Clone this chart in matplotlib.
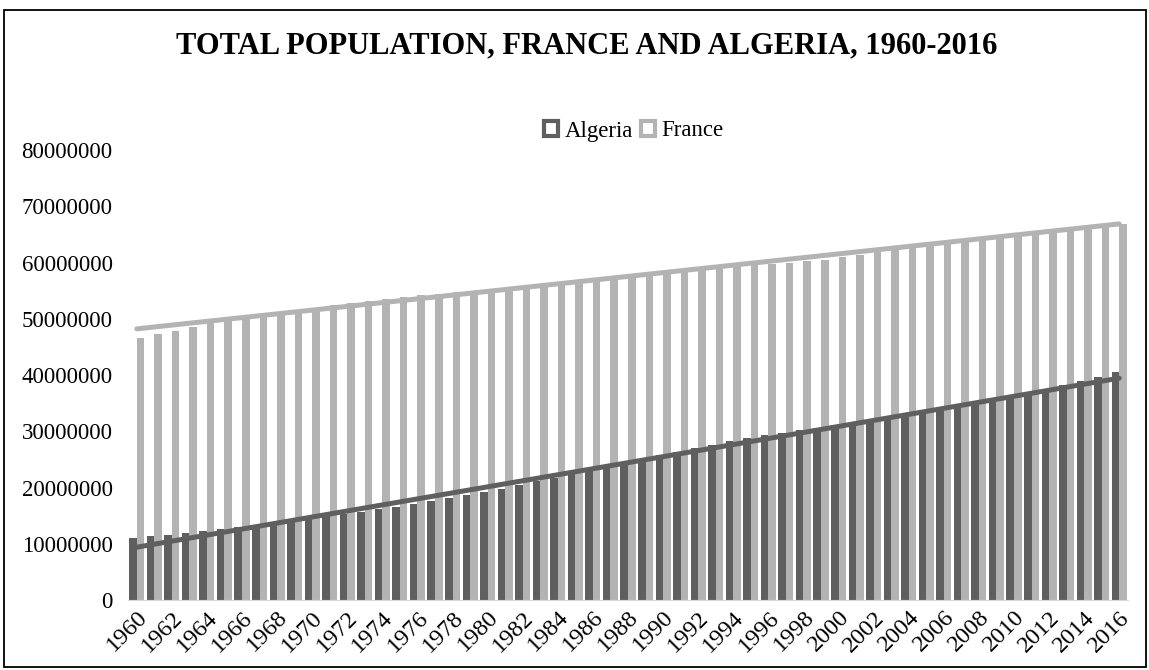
import numpy as np
import matplotlib
matplotlib.use("Agg")
import matplotlib.pyplot as plt
from matplotlib.patches import Rectangle, Patch

years = list(range(1960, 2017))
algeria = [11.06, 11.34, 11.62, 11.91, 12.22, 12.55, 12.90, 13.28, 13.66, 14.06,
           14.46, 14.87, 15.29, 15.71, 16.15, 16.61, 17.09, 17.58, 18.10, 18.65,
           19.22, 19.82, 20.45, 21.10, 21.76, 22.43, 23.10, 23.77, 24.44, 25.11,
           25.76, 26.40, 27.03, 27.64, 28.21, 28.76, 29.27, 29.74, 30.19, 30.62,
           31.04, 31.45, 31.86, 32.26, 32.69, 33.15, 33.64, 34.17, 34.73, 35.33,
           35.98, 36.66, 37.38, 38.14, 38.92, 39.73, 40.55]
france = [46.62, 47.24, 47.90, 48.58, 49.23, 49.82, 50.33, 50.78, 51.18, 51.56,
          51.96, 52.37, 52.79, 53.21, 53.59, 53.93, 54.22, 54.47, 54.69, 54.92,
          55.16, 55.43, 55.72, 56.02, 56.34, 56.65, 56.98, 57.30, 57.63, 57.94,
          58.24, 58.56, 58.85, 59.11, 59.33, 59.54, 59.75, 59.96, 60.19, 60.50,
          60.91, 61.36, 61.81, 62.24, 62.70, 63.18, 63.62, 64.02, 64.37, 64.71,
          65.03, 65.34, 65.66, 66.00, 66.32, 66.59, 66.86]
algeria = [v * 1e6 for v in algeria]
france = [v * 1e6 for v in france]
series_names = ["Algeria", "France"]
title = "TOTAL POPULATION, FRANCE AND ALGERIA, 1960-2016"

c_alg = "#5f5f5f"
c_fra = "#b3b3b3"
serif = ["Liberation Serif", "DejaVu Serif"]
plt.rcParams["font.family"] = serif

fig = plt.figure(figsize=(11.49, 6.70), dpi=100)
ax = fig.add_axes([128/1149, 70/670, 1000/1149, 450/670])

x = np.arange(len(years))
w = 0.43
ax.bar(x - w/2, algeria, width=w, color=c_alg, zorder=2)
ax.bar(x + w/2, france, width=w, color=c_fra, zorder=2)

for vals, col in ((algeria, c_alg), (france, c_fra)):
    p = np.polyfit(x, vals, 1)
    ax.plot([x[0], x[-1]], np.polyval(p, [x[0], x[-1]]), color=col, lw=3.6,
            solid_capstyle="round", zorder=3)

ax.set_xlim(-0.5, len(years) - 0.5)
ax.set_ylim(0, 80e6)
yt = np.arange(0, 80e6 + 1, 10e6)
ax.set_yticks(yt)
ax.set_yticklabels([f"{int(v)}" for v in yt], fontsize=16.5)
ax.set_xticks(x[::2])
ax.set_xticklabels([str(y) for y in years[::2]], rotation=45, ha="right", va="top",
                   rotation_mode="anchor", fontsize=17.5)
ax.tick_params(axis="y", length=0, pad=11)
ax.tick_params(axis="x", length=0, pad=5)
for s in ("top", "right", "left"):
    ax.spines[s].set_visible(False)
ax.spines["bottom"].set_color("#d9d9d9")

fig.text(587/1149, 1 - 46/670, title, ha="center", va="center", fontsize=22, fontweight="bold")

handles = [Patch(facecolor="white", edgecolor=c_alg, linewidth=3),
           Patch(facecolor="white", edgecolor=c_fra, linewidth=3)]
fig.legend(handles, series_names, loc="center", bbox_to_anchor=(634/1149, 1 - 131/670),
           ncol=2, frameon=False, fontsize=16.5, handlelength=0.6, handleheight=0.6,
           handletextpad=0.3, columnspacing=0.35)

fig.patches.append(Rectangle((4/1149, 3/670), 1142/1149, 657/670, transform=fig.transFigure,
                             fill=False, edgecolor="black", linewidth=1.3))

fig.savefig("out.png", dpi=100)
